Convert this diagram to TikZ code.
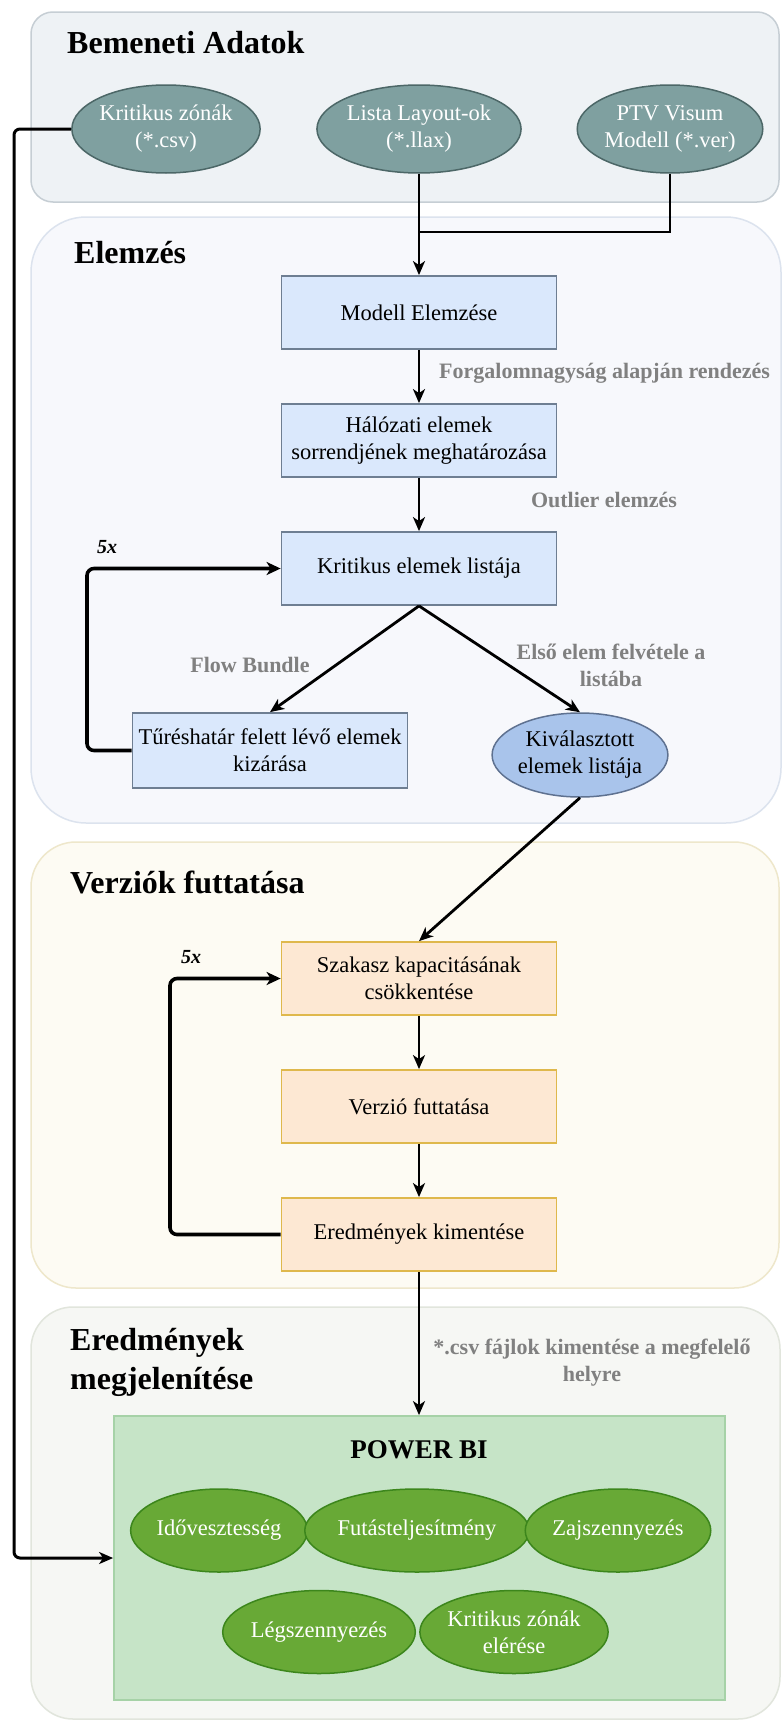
\documentclass[tikz,border=0pt]{standalone}
\usepackage{fontspec}
\setmainfont{Liberation Serif}
\usetikzlibrary{shapes.geometric,arrows.meta}

\definecolor{inpanelfill}{HTML}{EEF2F5}
\definecolor{inpaneldraw}{HTML}{C6CED4}
\definecolor{anpanelfill}{HTML}{F7F8FC}
\definecolor{anpaneldraw}{HTML}{DCE3EE}
\definecolor{runpanelfill}{HTML}{FDFBF3}
\definecolor{runpaneldraw}{HTML}{EEE7CB}
\definecolor{respanelfill}{HTML}{F6F7F4}
\definecolor{respaneldraw}{HTML}{E1E5DC}
\definecolor{inpfill}{HTML}{7FA0A0}
\definecolor{inpdraw}{HTML}{4C6767}
\definecolor{bluefill}{HTML}{DAE8FC}
\definecolor{bluedraw}{HTML}{6E7E92}
\definecolor{selfill}{HTML}{A9C4EB}
\definecolor{seldraw}{HTML}{5E7190}
\definecolor{orangefill}{HTML}{FDE8D3}
\definecolor{orangedraw}{HTML}{DFB84C}
\definecolor{pbifill}{HTML}{C6E4C7}
\definecolor{pbidraw}{HTML}{A6D2A7}
\definecolor{greenfill}{HTML}{68A936}
\definecolor{greendraw}{HTML}{3C861C}
\definecolor{labelgray}{HTML}{808080}

\newcommand{\nodefont}{\fontsize{22.5}{27}\selectfont}
\newcommand{\titlefont}{\fontsize{32}{39}\selectfont\bfseries}
\newcommand{\edgefont}{\fontsize{22}{27}\selectfont\bfseries}

\tikzset{
  panel/.style={line width=1.5pt},
  inpell/.style={ellipse, fill=inpfill, draw=inpdraw, line width=1.5pt,
    minimum width=172pt, minimum height=88pt, inner sep=0pt,
    text=white, font=\nodefont, align=center},
  bluebox/.style={rectangle, fill=bluefill, draw=bluedraw, line width=1.8pt,
    minimum width=275pt, minimum height=73pt, inner sep=2pt,
    font=\nodefont, align=center},
  selell/.style={ellipse, fill=selfill, draw=seldraw, line width=1.5pt,
    minimum width=168pt, minimum height=84pt, inner sep=0pt,
    font=\nodefont, align=center},
  orangebox/.style={rectangle, fill=orangefill, draw=orangedraw, line width=1.8pt,
    minimum width=275pt, minimum height=73pt, inner sep=2pt,
    font=\nodefont, align=center},
  greenell/.style={ellipse, fill=greenfill, draw=greendraw, line width=1.5pt,
    minimum width=167pt, minimum height=83pt, inner sep=0pt,
    text=white, font=\nodefont, align=center},
  paneltitle/.style={anchor=base west, inner sep=0pt, font=\titlefont, align=left},
  edgelabel/.style={inner sep=0pt, text=labelgray, font=\edgefont, align=center},
  countlabel/.style={inner sep=0pt, font=\fontsize{20}{24}\selectfont\bfseries\itshape},
  arr/.style={line width=2.8pt, -{Stealth[length=14pt,width=12pt,inset=4pt]}},
  plain/.style={line width=2.8pt},
  looparr/.style={line width=3.6pt, rounded corners=7pt,
    -{Stealth[length=14pt,width=13pt,inset=4pt]}},
  sidearr/.style={line width=3pt, rounded corners=6pt,
    -{Stealth[length=14pt,width=12pt,inset=4pt]}},
}

\begin{document}
\begin{tikzpicture}[x=1pt, y=-1pt]
  % canvas
  \fill[white] (0,0) rectangle (782,1721);
  \useasboundingbox (0,0) rectangle (782,1721);

  % group panels
  \draw[panel, fill=inpanelfill, draw=inpaneldraw, rounded corners=22pt]
    (31,12) rectangle (779,202);
  \draw[panel, fill=anpanelfill, draw=anpaneldraw, rounded corners=55pt]
    (31,217) rectangle (781,823);
  \draw[panel, fill=runpanelfill, draw=runpaneldraw, rounded corners=45pt]
    (31,842) rectangle (779,1288);
  \draw[panel, fill=respanelfill, draw=respaneldraw, rounded corners=42pt]
    (31,1307) rectangle (780,1719);

  % panel titles
  \node[paneltitle] (t1) at (67,53) {Bemeneti Adatok};
  \node[paneltitle] (t2) at (74,263) {Elemzés};
  \node[paneltitle] (t3) at (70,893) {Verziók futtatása};
  \node[paneltitle, anchor=north west] (t4) at (70,1328) {Eredmények\\megjelenítése};

  % input data
  \node[inpell] (kz)    at (166,129) {Kritikus zónák\\(*.csv)};
  \node[inpell] (lista) at (419,129) {Lista Layout-ok\\(*.llax)};
  \node[inpell] (ptv)   at (670,129) {PTV Visum\\Modell (*.ver)};

  % analysis
  \node[bluebox] (modell) at (419,312.5) {Modell Elemzése};
  \node[bluebox] (halo)   at (419,440.5) {Hálózati elemek\\sorrendjének meghatározása};
  \node[bluebox] (krit)   at (419,568.5) {Kritikus elemek listája};
  \node[bluebox, minimum height=75pt] (tur) at (270,750.5) {Tűréshatár felett lévő elemek\\kizárása};
  \node[selell] (kiv) at (580,755) {Kiválasztott\\elemek listája};

  % version runs
  \node[orangebox] (szak)  at (419,978.5)  {Szakasz kapacitásának\\csökkentése};
  \node[orangebox] (verz)  at (419,1106.5) {Verzió futtatása};
  \node[orangebox] (ered)  at (419,1234.5) {Eredmények kimentése};

  % results
  \node[rectangle, fill=pbifill, draw=pbidraw, line width=1.8pt,
        minimum width=611pt, minimum height=284pt] (pbi) at (419.5,1558) {};
  \node[inner sep=0pt, font=\fontsize{27}{32}\selectfont\bfseries] (pbititle) at (419,1450) {POWER BI};
  \node[greenell] (ido) at (219,1530.5) {Idővesztesség};
  \node[greenell] (fut) at (417,1530.5) {Futásteljesítmény};
  \node[greenell] (zaj) at (618,1530.5) {Zajszennyezés};
  \node[greenell] (leg) at (319,1632)   {Légszennyezés};
  \node[greenell] (kze) at (514,1632)   {Kritikus zónák\\elérése};

  % edge labels
  \node[edgelabel, anchor=west] (l1) at (439,373) {Forgalomnagyság alapján rendezés};
  \node[edgelabel] (l2) at (604,500) {Outlier elemzés};
  \node[edgelabel] (l3) at (250,665) {Flow Bundle};
  \node[edgelabel] (l4) at (611,665) {Első elem felvétele a\\listába};
  \node[edgelabel] (l5) at (592,1363) {*.csv fájlok kimentése a megfelelő\\helyre};
  \node[countlabel] (c1) at (107,547) {5x};
  \node[countlabel] (c2) at (191,957) {5x};

  % connectors
  \coordinate (join) at (419,232);
  \coordinate (lx) at (14,0);
  \coordinate (lx1) at (87,0);
  \coordinate (lx2) at (170,0);

  \draw[plain] (ptv.south) |- (join);
  \draw[arr] (lista.south) -- (modell.north);
  \draw[arr] (modell.south) -- (halo.north);
  \draw[arr] (halo.south) -- (krit.north);
  \draw[arr] (krit.south) -- (tur.north);
  \draw[arr] (krit.south) -- (kiv.north);
  \draw[looparr] (tur.west) -- (tur.west -| lx1) -- (krit.west -| lx1) -- (krit.west);
  \draw[arr] (kiv.south) -- (szak.north);
  \draw[arr] (szak.south) -- (verz.north);
  \draw[arr] (verz.south) -- (ered.north);
  \draw[looparr] (ered.west) -- (ered.west -| lx2) -- (szak.west -| lx2) -- (szak.west);
  \draw[arr] (ered.south) -- (pbi.north -| ered.south);
  \draw[sidearr] (kz.west) -- (kz.west -| lx) -- (pbi.west -| lx) -- (pbi.west);
\end{tikzpicture}
\end{document}
